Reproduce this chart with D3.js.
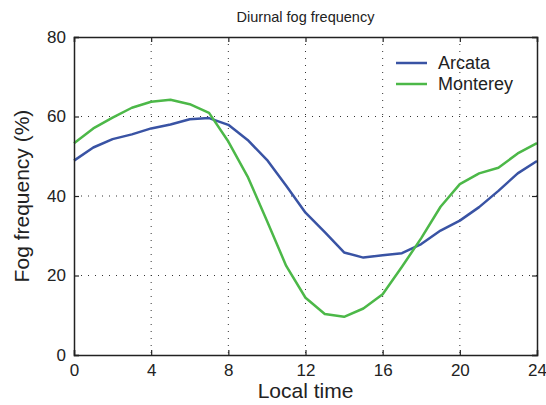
<!DOCTYPE html>
<html><head><meta charset="utf-8">
<script src="https://cdn.jsdelivr.net/npm/d3@7"></script>
<style>body{margin:0;background:#fff;} svg{display:block;font-family:"Liberation Sans",Arial,sans-serif;}</style>
</head><body><svg id="c" width="546" height="405"></svg>
<script>
const hours = d3.range(0, 25);
const arcata = [48.9,52.2,54.3,55.5,57.0,58.0,59.3,59.6,57.9,54.1,49.1,42.6,35.8,30.9,25.8,24.5,25.1,25.6,27.9,31.3,33.8,37.2,41.3,45.7,48.8];
const monterey = [53.3,57.0,59.7,62.2,63.7,64.2,63.1,60.9,53.7,44.9,33.8,22.4,14.4,10.3,9.6,11.7,15.3,22.2,29.4,37.3,43.0,45.7,47.1,50.7,53.3];
const xTicks = [0,4,8,12,16,20,24];
const yTicks = [0,20,40,60,80];
const seriesNames = ["Arcata","Monterey"];
const colors = ["#3953a4","#4cb848"];

const svg = d3.select("#c");
const L=74, R=537, T=37, B=355;
const x = d3.scaleLinear().domain([0,24]).range([L,R]);
const y = d3.scaleLinear().domain([0,80]).range([B,T]);

// grid
const g = svg.append("g");
g.selectAll(".gx").data(xTicks.filter(d=>d>0&&d<24)).join("line")
  .attr("x1",d=>x(d)).attr("x2",d=>x(d)).attr("y1",T).attr("y2",B)
  .attr("stroke","#333").attr("stroke-width",1).attr("stroke-dasharray","1,6");
g.selectAll(".gy").data(yTicks.filter(d=>d>0&&d<80)).join("line")
  .attr("y1",d=>y(d)).attr("y2",d=>y(d)).attr("x1",L).attr("x2",R)
  .attr("stroke","#333").attr("stroke-width",1).attr("stroke-dasharray","1,6");

// lines
const line = d3.line().x((d,i)=>x(hours[i])).y(d=>y(d));
[arcata, monterey].forEach((s,i)=>{
  svg.append("path").datum(s).attr("d",line).attr("fill","none")
    .attr("stroke",colors[i]).attr("stroke-width",2.5).attr("stroke-linejoin","round");
});

// axes
const ax = svg.append("g").attr("transform",`translate(0,${B})`)
  .call(d3.axisBottom(x).tickValues(xTicks).tickSize(-5).tickPadding(9).tickFormat(d3.format("d")));
const axT = svg.append("g").attr("transform",`translate(0,${T})`)
  .call(d3.axisTop(x).tickValues(xTicks).tickSize(-5).tickFormat(""));
const ay = svg.append("g").attr("transform",`translate(${L},0)`)
  .call(d3.axisLeft(y).tickValues(yTicks).tickSize(-5).tickPadding(8).tickFormat(d3.format("d")));
const ayR = svg.append("g").attr("transform",`translate(${R},0)`)
  .call(d3.axisRight(y).tickValues(yTicks).tickSize(-5).tickFormat(""));
[ax,axT,ay,ayR].forEach(a=>{
  a.select(".domain").attr("stroke","#222").attr("stroke-width",1.5);
  a.selectAll(".tick line").attr("stroke","#222").attr("stroke-width",1.2);
  a.selectAll("text").attr("font-size",17).attr("fill","#222").attr("font-family","Liberation Sans, Arial, sans-serif");
});

// labels
svg.append("text").attr("x",(L+R)/2).attr("y",22).attr("text-anchor","middle")
  .attr("font-size",14.5).attr("fill","#222").text("Diurnal fog frequency");
svg.append("text").attr("x",(L+R)/2).attr("y",398).attr("text-anchor","middle")
  .attr("font-size",21).attr("fill","#222").text("Local time");
svg.append("text").attr("transform",`translate(29,${(T+B)/2}) rotate(-90)`).attr("text-anchor","middle")
  .attr("font-size",21).attr("fill","#222").text("Fog frequency (%)");

// legend
seriesNames.forEach((n,i)=>{
  const yy = 63 + i*21;
  svg.append("line").attr("x1",396).attr("x2",427).attr("y1",yy).attr("y2",yy)
    .attr("stroke",colors[i]).attr("stroke-width",2.5);
  svg.append("text").attr("x",438).attr("y",yy+6).attr("font-size",18).attr("fill","#222").text(n);
});
</script></body></html>
